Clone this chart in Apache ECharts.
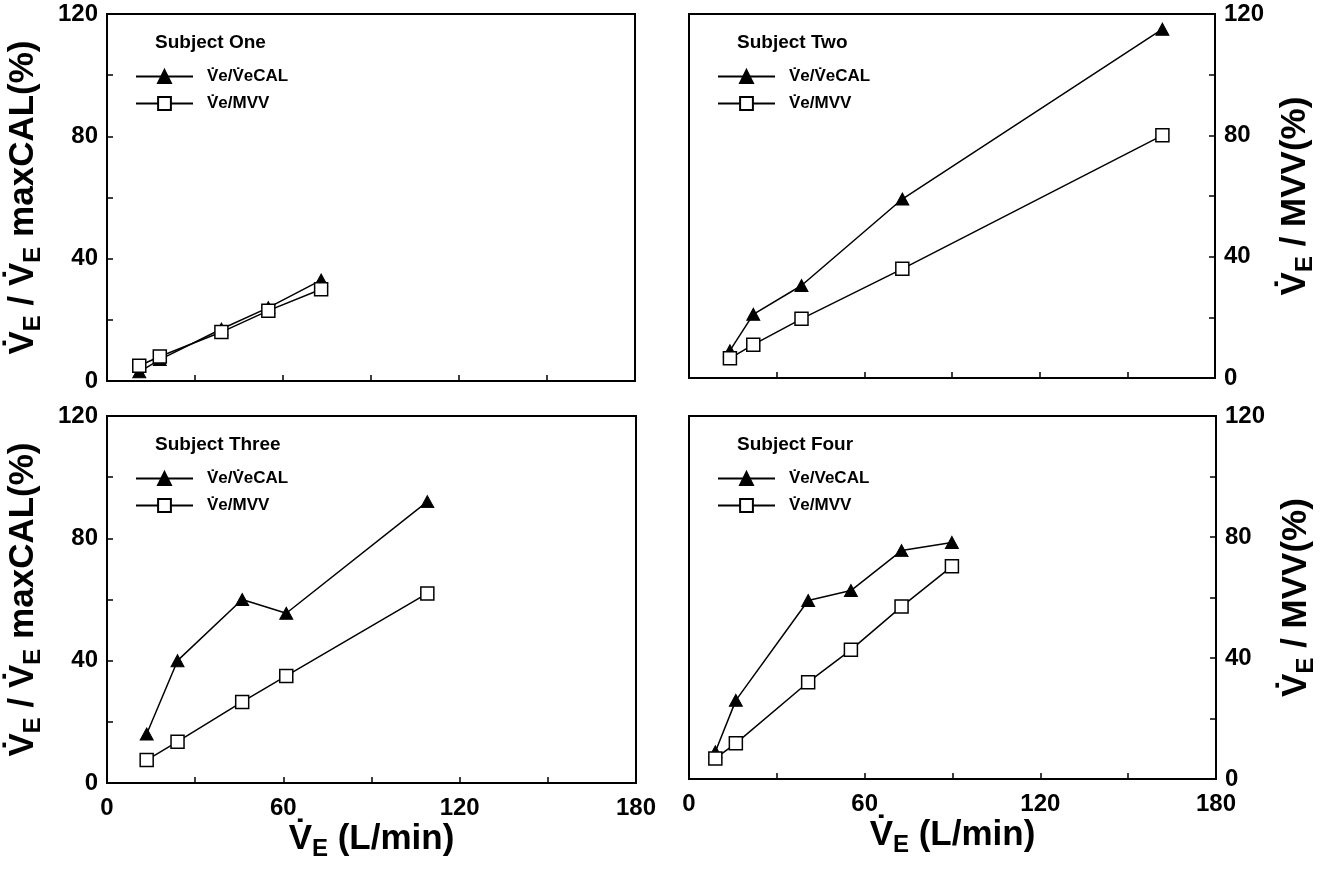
<!DOCTYPE html>
<html>
<head>
<meta charset="utf-8">
<title>Ve ratios by subject</title>
<script src="https://cdn.jsdelivr.net/npm/echarts@6/dist/echarts.min.js"></script>
<style>
  html, body { margin: 0; padding: 0; background: #fff; }
  #chart { width: 1320px; height: 871px; }
</style>
</head>
<body>
<div id="chart"></div>
<script>
// values (x = VE L/min, y = %)
const subjects = ["Subject One", "Subject Two", "Subject Three", "Subject Four"];
const calNames = ["V̇e/V̇eCAL", "V̇e/V̇eCAL", "V̇e/V̇eCAL", "V̇e/VeCAL"];
const mvvName = "V̇e/MVV";

const s1Ve = [11, 18, 39, 55, 73];
const s1Cal = [3, 7, 17, 24, 33];
const s1Mvv = [5, 8, 16, 23, 30];

const s2Ve = [14, 22, 38.5, 73, 162];
const s2Cal = [9, 21, 30.5, 59, 115];
const s2Mvv = [6.5, 11, 19.5, 36, 80];

const s3Ve = [13.5, 24, 46, 61, 109];
const s3Cal = [16, 40, 60, 55.5, 92];
const s3Mvv = [7.5, 13.5, 26.5, 35, 62];

const s4Ve = [9, 16, 40.7, 55.3, 72.6, 89.8];
const s4Cal = [9, 26, 59, 62.3, 75.5, 78.2];
const s4Mvv = [6.8, 11.8, 32, 42.7, 57, 70.3];

const xMin = 0, xMax = 180, xStep = 30, xLabelStep = 60;
const yMin = 0, yMax = 120, yStep = 20, yLabelStep = 40;

const FONT = '"Liberation Sans", Arial, Helvetica, sans-serif';

const panels = [
  { ve: s1Ve, cal: s1Cal, mvv: s1Mvv, box: { left: 107, top: 14, width: 528, height: 367 }, side: "left", xLabels: false },
  { ve: s2Ve, cal: s2Cal, mvv: s2Mvv, box: { left: 689, top: 14, width: 526, height: 364 }, side: "right", xLabels: false },
  { ve: s3Ve, cal: s3Cal, mvv: s3Mvv, box: { left: 107, top: 416, width: 529, height: 367 }, side: "left", xLabels: true },
  { ve: s4Ve, cal: s4Cal, mvv: s4Mvv, box: { left: 689, top: 416, width: 527, height: 363 }, side: "right", xLabels: true },
];

const nameRich = {
  v: { fontFamily: FONT, fontSize: 35, fontWeight: "bold", color: "#000", lineHeight: 44 },
  s: { fontFamily: FONT, fontSize: 24, fontWeight: "bold", color: "#000", lineHeight: 20, verticalAlign: "bottom" },
};

const pairs = (xs, ys) => xs.map((x, i) => [x, ys[i]]);

const grid = [], xAxis = [], yAxis = [], series = [], title = [], legend = [];

panels.forEach((p, i) => {
  const b = p.box;
  grid.push(Object.assign({ show: true, borderColor: "#000", borderWidth: 2, backgroundColor: "transparent" }, b));

  title.push({
    text: subjects[i],
    left: b.left + 48,
    top: b.top + 19,
    padding: 0,
    textStyle: { fontFamily: FONT, fontSize: 19, fontWeight: "bold", color: "#000" },
  });

  legend.push({
    data: [calNames[i], mvvName],
    orient: "vertical",
    left: b.left + 28,
    top: b.top + 54,
    padding: 0,
    itemWidth: 57,
    itemHeight: 16,
    itemGap: 10,
    selectedMode: false,
    textStyle: { fontFamily: FONT, fontSize: 17, fontWeight: "bold", color: "#000", padding: [0, 0, 0, 9] },
  });

  xAxis.push({
    gridIndex: i,
    type: "value",
    min: xMin,
    max: xMax,
    interval: xStep,
    name: p.xLabels ? "{v|V̇}{s|E}{v| (L/min)}" : "",
    nameLocation: "middle",
    nameGap: 34,
    nameTextStyle: { rich: nameRich },
    axisLine: { onZero: false, lineStyle: { color: "#000", width: 2 } },
    axisTick: { inside: true, length: 6, lineStyle: { color: "#000", width: 1.5 } },
    axisLabel: {
      show: p.xLabels,
      margin: 13,
      color: "#000",
      fontFamily: FONT,
      fontSize: 24,
      fontWeight: "bold",
      formatter: (v) => (v % xLabelStep === 0 ? String(v) : ""),
    },
    splitLine: { show: false },
  });

  yAxis.push({
    gridIndex: i,
    type: "value",
    position: p.side,
    min: yMin,
    max: yMax,
    interval: yStep,
    name: p.side === "left"
      ? "{v|V̇}{s|E}{v| / V̇}{s|E}{v| maxCAL(%)}"
      : "{v|V̇}{s|E}{v| / MVV(%)}",
    nameLocation: "middle",
    nameGap: p.side === "left" ? 62 : 58,
    nameTextStyle: { rich: nameRich },
    axisLine: { show: true, onZero: false, lineStyle: { color: "#000", width: 2 } },
    axisTick: { inside: true, length: 6, lineStyle: { color: "#000", width: 1.5 } },
    axisLabel: {
      margin: 9,
      color: "#000",
      fontFamily: FONT,
      fontSize: 24,
      fontWeight: "bold",
      formatter: (v) => (v % yLabelStep === 0 ? String(v) : ""),
    },
    splitLine: { show: false },
  });

  series.push({
    name: calNames[i],
    type: "line",
    xAxisIndex: i,
    yAxisIndex: i,
    data: pairs(p.ve, p.cal),
    symbol: "triangle",
    symbolSize: [13, 12],
    showAllSymbol: true,
    lineStyle: { color: "#000", width: 1.5 },
    itemStyle: { color: "#000", borderColor: "#000", borderWidth: 1 },
    emphasis: { disabled: true },
    animation: false,
  });

  series.push({
    name: mvvName,
    type: "line",
    xAxisIndex: i,
    yAxisIndex: i,
    data: pairs(p.ve, p.mvv),
    symbol: "rect",
    symbolSize: 13,
    showAllSymbol: true,
    lineStyle: { color: "#000", width: 1.5 },
    itemStyle: { color: "#fff", borderColor: "#000", borderWidth: 1.5 },
    emphasis: { disabled: true },
    animation: false,
  });
});

const chart = echarts.init(document.getElementById("chart"));
chart.setOption({
  backgroundColor: "#fff",
  animation: false,
  title,
  legend,
  grid,
  xAxis,
  yAxis,
  series,
});
</script>
</body>
</html>
